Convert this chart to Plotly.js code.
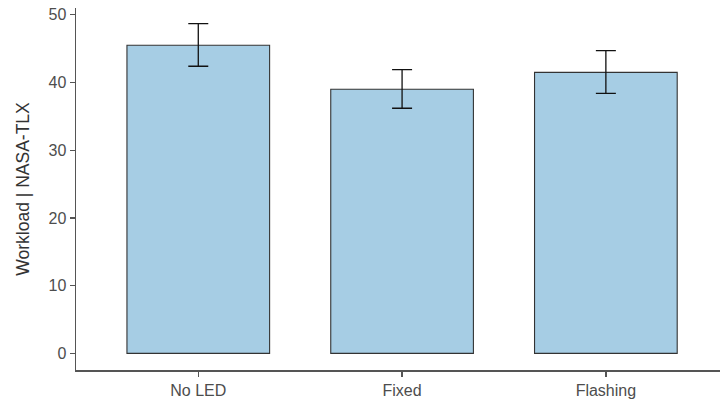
<!DOCTYPE html>
<html>
<head>
<meta charset="utf-8">
<script src="https://cdn.plot.ly/plotly-3.0.1.min.js"></script>
<style>html,body{margin:0;padding:0;background:#fff;}#chart{width:720px;height:403px;}</style>
</head>
<body>
<div id="chart"></div>
<script>
const categories = ["No LED", "Fixed", "Flashing"];
const workload = [45.5, 39.0, 41.5];
const errorUpper = [3.2, 2.9, 3.2];
const errorLower = [3.1, 2.8, 3.1];
const yTickVals = [0, 10, 20, 30, 40, 50];

const trace = {
  type: "bar",
  x: categories,
  y: workload,
  width: 0.7,
  marker: {color: "#a6cde4", line: {color: "#333333", width: 1.1}},
  error_y: {type: "data", symmetric: false, array: errorUpper, arrayminus: errorLower,
            color: "#111111", thickness: 1.3, width: 10},
  hoverinfo: "none"
};

const layout = {
  width: 720, height: 403,
  margin: {l: 76, r: 0, t: 8, b: 33},
  paper_bgcolor: "#ffffff", plot_bgcolor: "#ffffff",
  showlegend: false,
  font: {family: "Liberation Sans, Arial, sans-serif", color: "#4d4d4d"},
  xaxis: {
    type: "category", range: [-0.6, 2.56],
    showline: true, linecolor: "#555555", linewidth: 1.5,
    ticks: "outside", ticklen: 5, tickwidth: 1.3, tickcolor: "#555555",
    tickfont: {size: 16, color: "#4d4d4d"},
    showgrid: false, zeroline: false, fixedrange: true
  },
  yaxis: {
    range: [-2.45, 51.0],
    tickvals: yTickVals,
    showline: true, linecolor: "#555555", linewidth: 1.5,
    ticks: "outside", ticklen: 5, tickwidth: 1.3, tickcolor: "#555555",
    tickfont: {size: 16, color: "#4d4d4d"},
    showgrid: false, zeroline: false,
    title: {text: "Workload | NASA-TLX", font: {size: 17.5, color: "#333333"}, standoff: 14}
  }
};

Plotly.newPlot("chart", [trace], layout, {staticPlot: true, displayModeBar: false});
</script>
</body>
</html>
